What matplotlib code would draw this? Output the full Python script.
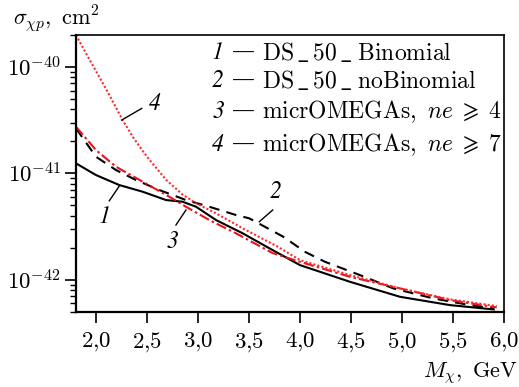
import matplotlib
matplotlib.use("Agg")
import matplotlib.pyplot as plt
import matplotlib.ticker as mticker
import numpy as np

plt.rcParams["mathtext.fontset"] = "cm"
plt.rcParams["font.family"] = ["DejaVu Serif"]

# --- Data (log10 of cross-section, cm^2).
x1 = [1.8, 1.996, 2.225, 2.455, 2.683, 2.847, 2.978, 3.174, 3.436, 3.73, 3.998,
      4.489, 4.98, 5.47, 5.9]
lg1 = [-40.906, -41.016, -41.11, -41.173, -41.251, -41.267, -41.314, -41.439,
       -41.564, -41.722, -41.863, -42.02, -42.161, -42.239, -42.28]

x2 = [1.8, 1.996, 2.193, 2.389, 2.618, 2.879, 3.108, 3.37, 3.5, 3.834, 4.047,
      4.244, 4.587, 4.914, 5.307, 5.666, 5.9]
lg2 = [-40.577, -40.844, -40.969, -41.063, -41.157, -41.251, -41.314, -41.392,
       -41.423, -41.596, -41.738, -41.832, -41.957, -42.082, -42.176, -42.239,
       -42.27]

x3 = [1.8, 1.996, 2.193, 2.455, 2.716, 2.879, 3.108, 3.37, 3.73, 3.998, 4.489,
      4.98, 5.47, 5.928]
lg3 = [-40.562, -40.781, -40.938, -41.079, -41.22, -41.314, -41.439, -41.564,
       -41.75, -41.832, -41.973, -42.082, -42.192, -42.261]

x4 = [1.8, 1.898, 2.0, 2.127, 2.258, 2.356, 2.455, 2.519, 2.683, 2.847, 2.978,
      3.174, 3.436, 3.78, 3.998, 4.489, 4.98, 5.47, 5.928]
lg4 = [-39.699, -39.871, -40.044, -40.263, -40.499, -40.655, -40.79, -40.87,
       -41.06, -41.2, -41.282, -41.376, -41.517, -41.69, -41.816, -41.957,
       -42.082, -42.185, -42.248]

legend_nums = ["1", "2", "3", "4"]
legend_names = [r"$\mathrm{DS\,\_\,50\,\_\;Binomial}$",
                r"$\mathrm{DS\,\_\,50\,\_\;noBinomial}$",
                r"$\mathrm{micrOMEGAs,}\ ne\;\geqslant\;\mathrm{4}$",
                r"$\mathrm{micrOMEGAs,}\ ne\;\geqslant\;\mathrm{7}$"]

xticks = [2.0, 2.5, 3.0, 3.5, 4.0, 4.5, 5.0, 5.5, 6.0]
yticks = [1e-42, 1e-41, 1e-40]
ytick_labels = [r"$10^{-42}$", r"$10^{-41}$", r"$10^{-40}$"]

# --- Figure
fig = plt.figure(figsize=(5.19, 3.87), dpi=100)
ax = fig.add_axes([76 / 519, 1 - 311.7 / 387, 428 / 519, 276.7 / 387])

ax.plot(x1, 10 ** np.array(lg1), color="black", lw=1.5, ls="-")
ax.plot(x2, 10 ** np.array(lg2), color="black", lw=1.5, ls=(0, (5, 3.5)))
ax.plot(x3, 10 ** np.array(lg3), color="#e8141c", lw=1.5, ls=(0, (5, 1.5, 1.2, 1.5)))
ax.plot(x4, 10 ** np.array(lg4), color="#ff2a2a", lw=1.5, ls=(0, (1, 1)))

ax.set_yscale("log")
ax.set_xlim(1.8, 6.0)
ax.set_ylim(5e-43, 2e-40)

ax.set_xticks(xticks)
ax.set_xticklabels([r"$%s{,}%s$" % tuple(f"{v:.1f}".split(".")) for v in xticks])
ax.set_yticks(yticks)
ax.set_yticklabels(ytick_labels)
ax.yaxis.set_minor_locator(mticker.LogLocator(base=10, subs=np.arange(2, 10)))
ax.yaxis.set_minor_formatter(mticker.NullFormatter())

ax.tick_params(axis="both", which="major", direction="out", length=8, width=1.2,
               labelsize=16.5, top=False, right=False)
ax.tick_params(axis="y", which="major", pad=3)
ax.tick_params(axis="x", which="major", pad=5)
ax.tick_params(axis="y", which="minor", direction="out", length=4.5, width=1.0,
               right=False)
for sp in ax.spines.values():
    sp.set_linewidth(1.2)
ax.spines["left"].set_linewidth(1.6)
ax.spines["bottom"].set_linewidth(1.6)

# axis labels
ax.text(-0.147, 1.061, r"$\sigma_{\chi p}\mathrm{,\ cm}^2$", transform=ax.transAxes,
        ha="left", va="center", fontsize=16)
ax.text(1.033, -0.222, r"$M_\chi\mathrm{,\ GeV}$", transform=ax.transAxes,
        ha="right", va="center", fontsize=16)

# legend as text rows
row_y = [0.935, 0.834, 0.722, 0.603]
for num, name, yy in zip(legend_nums, legend_names, row_y):
    ax.text(0.332, yy, num, transform=ax.transAxes, ha="center", va="center",
            fontsize=17, family="STIXGeneral", style="italic")
    ax.text(0.366, yy, "\u2014", transform=ax.transAxes, ha="left",
            va="center", fontsize=15, family="STIXGeneral")
    ax.text(0.435, yy, name, transform=ax.transAxes, ha="left",
            va="center", fontsize=17)

# curve labels with leader lines
ann = [("4", (2.248, 3.17e-41), (2.445, 4.08e-41), (2.575, 4.55e-41)),
       ("1", (2.225, 7.6e-42), (2.127, 5.52e-42), (2.078, 3.91e-42)),
       ("3", (2.879, 4.52e-42), (2.781, 3.27e-42), (2.749, 2.28e-42)),
       ("2", (3.599, 3.51e-42), (3.73, 4.52e-42), (3.763, 6.72e-42))]
for lab, p0, p1, pt in ann:
    ax.plot([p0[0], p1[0]], [p0[1], p1[1]], color="black", lw=1.0)
    ax.text(pt[0], pt[1], lab, ha="center", va="center", fontsize=17,
            family="STIXGeneral", style="italic")

fig.savefig("out.png", dpi=100)
